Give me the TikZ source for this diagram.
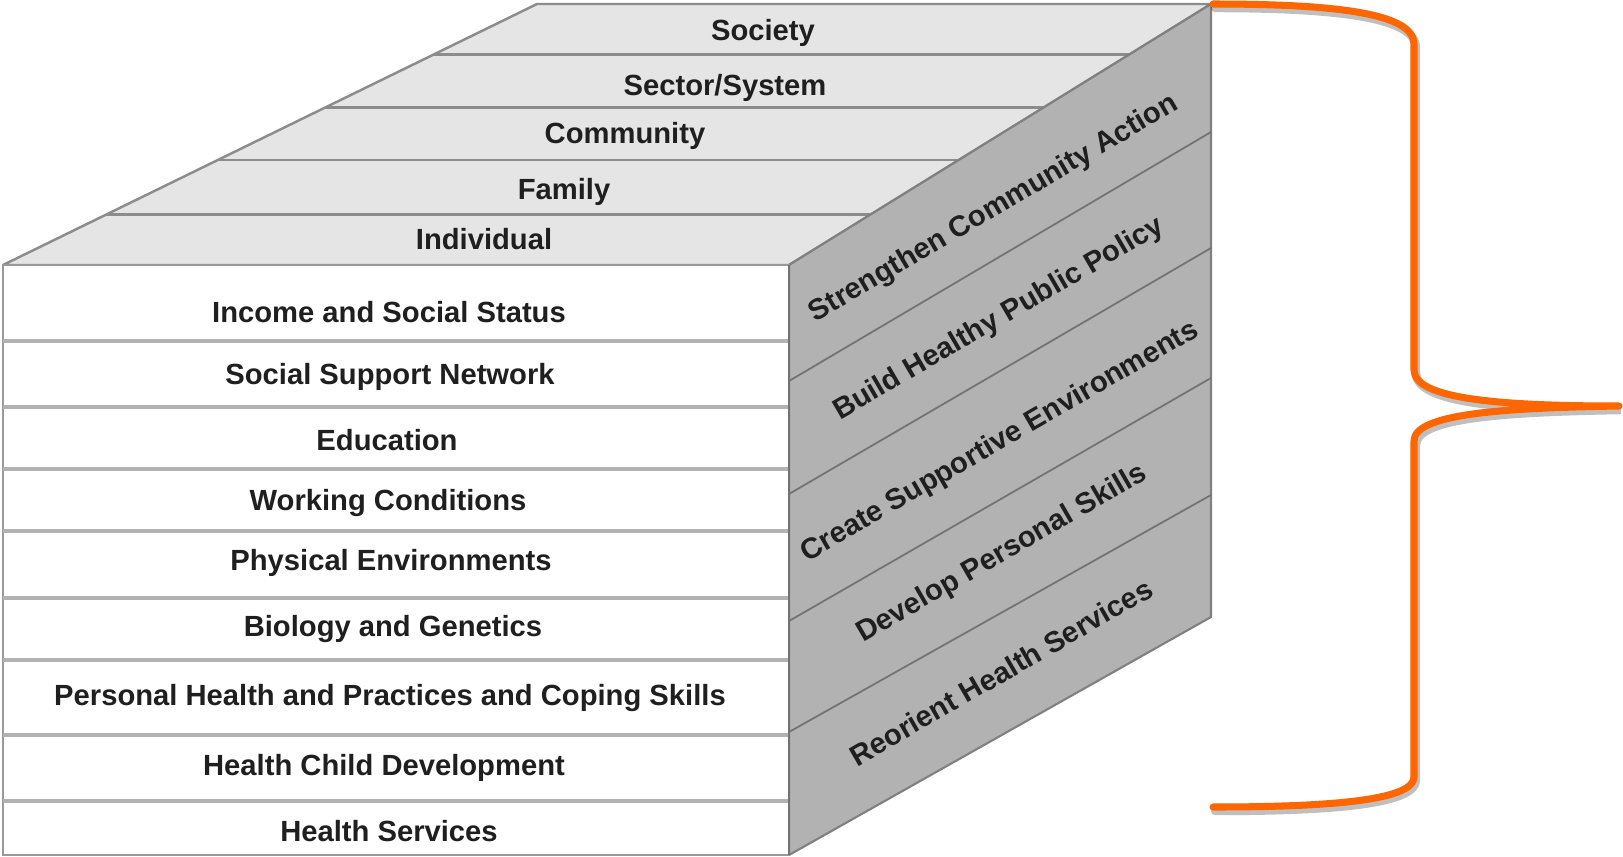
\documentclass[tikz,border=0pt]{standalone}
\usepackage{fontspec}
\setmainfont{Liberation Sans}
\usetikzlibrary{calc}

\begin{document}
\begin{tikzpicture}[
    x=0.01cm, y=-0.01cm,
    every node/.style={align=center, font=\fontsize{8.3}{10}\selectfont\bfseries, text=black!88},
    % Style for the faces of the cube
    topface/.style={fill=black!10, draw=black!45, line width=0.7pt, line join=round},
    sideface/.style={fill=black!30, draw=black!50, line width=0.6pt, line join=round},
    frontface/.style={fill=white, draw=black!40, line width=0.8pt},
    % Style for the separating lines
    topline/.style={draw=black!45, line width=0.8pt},
    sideline/.style={draw=black!55, line width=0.5pt},
    frontline/.style={draw=black!30, line width=1pt},
    % Style for the orange brace
    brace/.style={draw={rgb,255:red,255;green,102;blue,0}, line width=2pt, line cap=round, line join=round},
    braceshadow/.style={draw=black, opacity=0.25, line width=2.4pt, line cap=round}
]
\useasboundingbox (0,0) rectangle (1623,857);

% --- CORNERS OF THE CUBE ---
\coordinate (ftl) at (3,265);
\coordinate (ftr) at (789,265);
\coordinate (fbl) at (3,855);
\coordinate (fbr) at (789,855);
\coordinate (btl) at (537,4);
\coordinate (btr) at (1211,4);
\coordinate (bbr) at (1211,617);

% --- TOP FACE (levels) ---
\path[topface] (ftl) -- (btl) -- (btr) -- (ftr) -- cycle;
\draw[topline] ($(ftl)!0.195!(btl)$) -- ($(ftr)!0.195!(btr)$);
\draw[topline] ($(ftl)!0.402!(btl)$) -- ($(ftr)!0.402!(btr)$);
\draw[topline] ($(ftl)!0.605!(btl)$) -- ($(ftr)!0.605!(btr)$);
\draw[topline] ($(ftl)!0.808!(btl)$) -- ($(ftr)!0.808!(btr)$);

\node (individual) at (484,239) {Individual};
\node (family) at (564,192) {Family};
\node (community) at (625,136) {Community};
\node (sector) at (725,88) {Sector/System};
\node (society) at (763,33) {Society};

% --- RIGHT FACE (strategies) ---
\path[sideface] (ftr) -- (btr) -- (bbr) -- (fbr) -- cycle;
\draw[sideline] (789,381) -- (1211,132);
\draw[sideline] (789,494) -- (1211,248);
\draw[sideline] (789,621) -- (1211,378);
\draw[sideline] (789,732) -- (1211,495);

\node[rotate=30.4] (action) at (994,209) {Strengthen Community Action};
\node[rotate=30.2] (policy) at (999,319) {Build Healthy Public Policy};
\node[rotate=30] (environ) at (1000,442) {Create Supportive Environments};
\node[rotate=30] (skills) at (1002,554) {Develop Personal Skills};
\node[rotate=30] (reorient) at (1001,672) {Reorient Health Services};

% --- FRONT FACE (determinants) ---
\path[frontface] (ftl) rectangle (fbr);
\draw[frontline] (3,341) -- (789,341);
\draw[frontline] (3,407) -- (789,407);
\draw[frontline] (3,469) -- (789,469);
\draw[frontline] (3,531) -- (789,531);
\draw[frontline] (3,598) -- (789,598);
\draw[frontline] (3,660) -- (789,660);
\draw[frontline] (3,735) -- (789,735);
\draw[frontline] (3,801) -- (789,801);
\draw[sideline] (ftr) -- (fbr);

\node (income) at (389,312) {Income and Social Status};
\node (support) at (390,377) {Social Support Network};
\node (education) at (387,440) {Education};
\node (working) at (388,503) {Working Conditions};
\node (physical) at (391,563) {Physical Environments};
\node (biology) at (393,629) {Biology and Genetics};
\node (personal) at (390,698) {Personal Health and Practices and Coping Skills};
\node (child) at (384,768) {Health Child Development};
\node (services) at (389,831) {Health Services};

% --- BRACE ---
\draw[braceshadow, xshift=0.02cm, yshift=-0.03cm]
    (1213,5) .. controls (1340,5) and (1414,15) .. (1414,45) -- (1414,370)
    .. controls (1414,400) and (1500,407) .. (1619,407)
    .. controls (1500,409) and (1414,415) .. (1414,442) -- (1414,777)
    .. controls (1414,800) and (1340,808) .. (1213,808);
\draw[brace]
    (1213,4) .. controls (1340,4) and (1414,14) .. (1414,44) -- (1414,370)
    .. controls (1414,399) and (1500,406) .. (1619,406)
    .. controls (1500,408) and (1414,414) .. (1414,441) -- (1414,777)
    .. controls (1414,799) and (1340,807) .. (1213,807);

\end{tikzpicture}
\end{document}
